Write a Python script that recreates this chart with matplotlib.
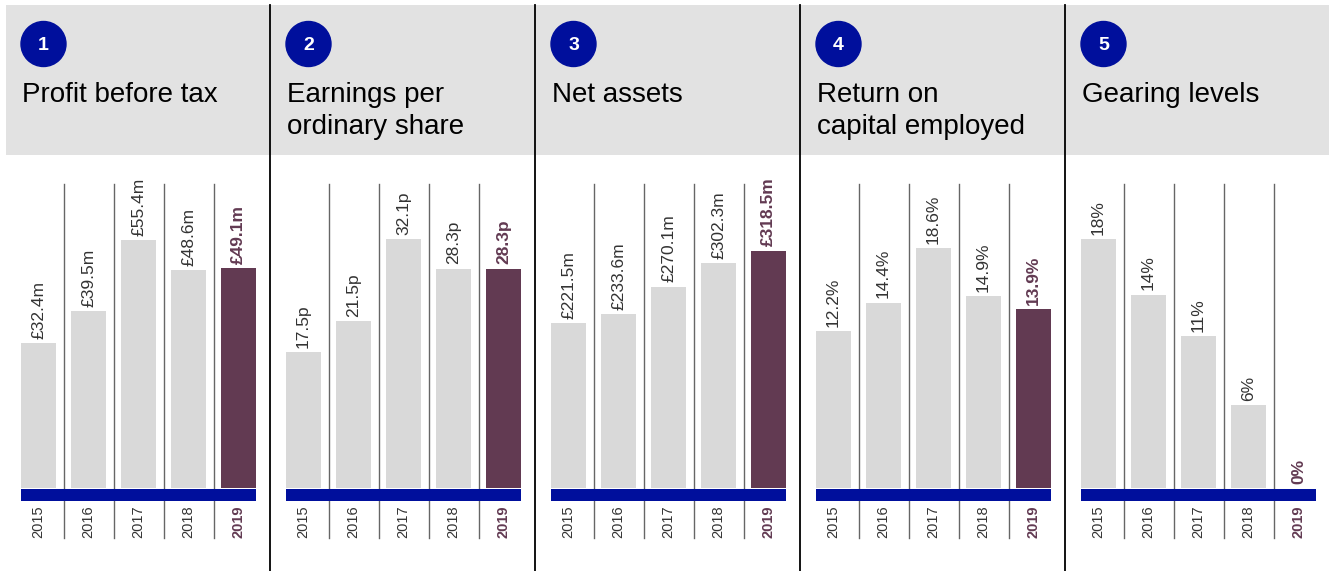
import matplotlib
matplotlib.use("Agg")
import matplotlib.pyplot as plt
from matplotlib.patches import Rectangle, Circle

plt.rcParams['font.family'] = ['Liberation Sans', 'DejaVu Sans']

# KPI data, one entry per panel
years = ["2015", "2016", "2017", "2018", "2019"]
titles = [
    ["Profit before tax"],
    ["Earnings per", "ordinary share"],
    ["Net assets"],
    ["Return on", "capital employed"],
    ["Gearing levels"],
]
profit = [32.4, 39.5, 55.4, 48.6, 49.1]
eps = [17.5, 21.5, 32.1, 28.3, 28.3]
net_assets = [221.5, 233.6, 270.1, 302.3, 318.5]
roce = [12.2, 14.4, 18.6, 14.9, 13.9]
gearing = [18, 14, 11, 6, 0]

values = [profit, eps, net_assets, roce, gearing]
labels = [
    ["£32.4m", "£39.5m", "£55.4m", "£48.6m", "£49.1m"],
    ["17.5p", "21.5p", "32.1p", "28.3p", "28.3p"],
    ["£221.5m", "£233.6m", "£270.1m", "£302.3m", "£318.5m"],
    ["12.2%", "14.4%", "18.6%", "14.9%", "13.9%"],
    ["18%", "14%", "11%", "6%", "0%"],
]
ytops = [67.9, 39.2, 408, 23.6, 22.0]

BLUE = "#000f9c"
PURPLE = "#623a52"
GREY_BAR = "#d9d9d9"
HEAD = "#e2e2e2"
TXT = "#333333"

W, H = 1329, 571
fig = plt.figure(figsize=(W / 100, H / 100), dpi=100)

# full-figure overlay in pixel coordinates for the header and frame
bg = fig.add_axes([0, 0, 1, 1])
bg.set_xlim(0, W)
bg.set_ylim(H, 0)
bg.axis("off")
bg.add_patch(Rectangle((6, 5), W - 6, 150, color=HEAD, lw=0, zorder=0))

PW = 265
for i in range(5):
    off = PW * i
    bg.add_patch(Circle((43.5 + off, 44), 22.5, color=BLUE, zorder=2))
    bg.text(43.5 + off, 45, str(i + 1), color="white", fontsize=14,
            fontweight="bold", ha="center", va="center", zorder=3)
    for j, line in enumerate(titles[i]):
        bg.text(22 + off, 102 + 32 * j, line, fontsize=20, color="black",
                ha="left", va="baseline")
    if i > 0:
        bg.plot([off + 5, off + 5], [5, H], color="black", lw=1.3)

# bar panels
bar_top, bar_base = 184, 488
for i in range(5):
    off = PW * i
    left = 21 + off
    ax = fig.add_axes([left / W, 1 - bar_base / H, 235 / W, (bar_base - bar_top) / H])
    ax.set_xlim(-0.35, 4.35)
    ax.set_ylim(0, ytops[i])
    ax.axis("off")
    vals = values[i]
    cols = [GREY_BAR] * 4 + [PURPLE]
    ax.bar(range(5), vals, width=0.7, color=cols, zorder=2)
    tr = ax.get_xaxis_transform()
    # thin dividers between years
    for k in range(4):
        ax.plot([k + 0.5, k + 0.5], [-0.165, 1.0], transform=tr,
                color="#666666", lw=1.0, clip_on=False, zorder=1)
    # blue baseline band
    ax.add_patch(Rectangle((-0.35, -0.042), 4.7, 0.04, transform=tr,
                           color=BLUE, lw=0, clip_on=False, zorder=4))
    for k in range(5):
        last = k == 4
        ax.text(k, vals[k] + ytops[i] * 0.014, labels[i][k], rotation=90,
                ha="center", va="bottom", fontsize=12.5,
                color=PURPLE if last else TXT,
                fontweight="bold" if last else "normal", zorder=3)
        ax.text(k, -0.165, years[k], transform=tr, rotation=90,
                ha="center", va="bottom", fontsize=10.5,
                color=PURPLE if last else TXT,
                fontweight="bold" if last else "normal")

fig.savefig("out.png", dpi=100)
